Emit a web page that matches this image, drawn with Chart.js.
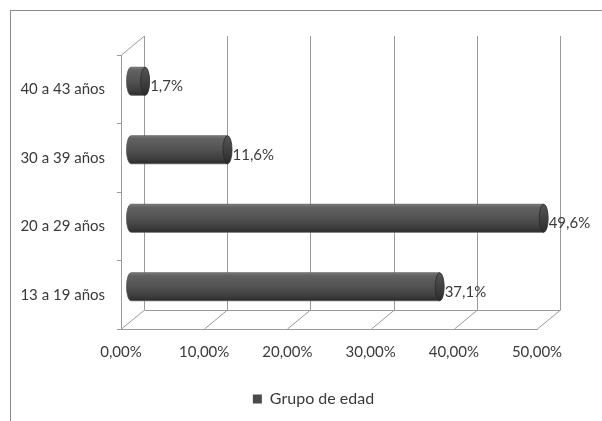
<!DOCTYPE html>
<html>
<head>
<meta charset="utf-8">
<script src="https://cdn.jsdelivr.net/npm/chart.js@4.4.0/dist/chart.umd.min.js"></script>
<style>
  html, body { margin: 0; padding: 0; background: #fff; }
  #wrap { position: relative; width: 602px; height: 421px; overflow: hidden; }
  #frame { position: absolute; left: 10px; top: 10px; width: 700px; height: 500px; border: 1px solid #8a8a8a; }
  canvas { position: absolute; left: 0; top: 0; }
</style>
</head>
<body>
<div id="wrap">
  <div id="frame"></div>
  <canvas id="chart" width="602" height="421"></canvas>
</div>
<script>
// data
const categories = ['13 a 19 años', '20 a 29 años', '30 a 39 años', '40 a 43 años'];
const grupoEdad = [37.1, 49.6, 11.6, 1.7];
const seriesName = 'Grupo de edad';
const xMin = 0, xMax = 50, xStep = 10;

const FONT = 'Lato';
const TEXT = '#3a3a3a';
const LINE = '#9a9a9a';
// 3d depth of the walls, and where the bars sit in that depth
const DEPTH = { dx: 23, dy: -19 };
const BAR_SHIFT = { dx: 10, dy: -8 };

function pct(v, d) {
  return v.toFixed(d).replace('.', ',') + '%';
}

function drawCylinder(ctx, x0, x1, yc, h) {
  const r = h / 2, rx = 4.5;
  const g = ctx.createLinearGradient(0, yc - r, 0, yc + r);
  g.addColorStop(0, '#7e7e7e');
  g.addColorStop(0.1, '#626262');
  g.addColorStop(0.5, '#525252');
  g.addColorStop(0.85, '#3c3c3c');
  g.addColorStop(1, '#2a2a2a');
  ctx.beginPath();
  ctx.moveTo(x1, yc - r);
  ctx.lineTo(x0, yc - r);
  ctx.ellipse(x0, yc, rx, r, 0, -Math.PI / 2, Math.PI / 2, true);
  ctx.lineTo(x1, yc + r);
  ctx.closePath();
  ctx.fillStyle = g;
  ctx.fill();
  ctx.strokeStyle = '#555';
  ctx.lineWidth = 0.8;
  ctx.stroke();

  // end cap
  const gc = ctx.createLinearGradient(0, yc - r, 0, yc + r);
  gc.addColorStop(0, '#555');
  gc.addColorStop(1, '#2c2c2c');
  ctx.beginPath();
  ctx.ellipse(x1, yc, rx, r, 0, 0, Math.PI * 2);
  ctx.fillStyle = gc;
  ctx.fill();
  ctx.strokeStyle = '#2a2a2a';
  ctx.stroke();
}

const wallsPlugin = {
  id: 'walls',
  afterLayout(chart) {
    // centre the legend under the whole frame, not just the plot box
    const lg = chart.legend;
    if (lg) { lg.left += 45; lg.right += 45; }
  },
  beforeDatasetsDraw(chart) {
    const { ctx, chartArea: a, scales: { x } } = chart;
    ctx.save();
    ctx.strokeStyle = LINE;
    ctx.lineWidth = 1;
    ctx.beginPath();
    for (let v = xMin; v <= xMax; v += xStep) {
      const px = Math.round(x.getPixelForValue(v)) + 0.5;
      // back wall gridline
      ctx.moveTo(px + DEPTH.dx, a.top + DEPTH.dy);
      ctx.lineTo(px + DEPTH.dx, a.bottom + DEPTH.dy);
      // floor diagonal
      ctx.moveTo(px, a.bottom);
      ctx.lineTo(px + DEPTH.dx, a.bottom + DEPTH.dy);
    }
    // back edge of floor
    const l = Math.round(x.getPixelForValue(xMin)) + 0.5;
    const r = Math.round(x.getPixelForValue(xMax)) + 0.5;
    ctx.moveTo(l + DEPTH.dx, Math.round(a.bottom + DEPTH.dy) + 0.5);
    ctx.lineTo(r + DEPTH.dx, Math.round(a.bottom + DEPTH.dy) + 0.5);
    // top of side wall
    ctx.moveTo(l, a.top);
    ctx.lineTo(l + DEPTH.dx, a.top + DEPTH.dy);
    ctx.stroke();
    ctx.restore();
  },
  beforeDatasetDraw(chart, args) {
    const { ctx } = chart;
    const meta = chart.getDatasetMeta(args.index);
    ctx.save();
    meta.data.forEach((bar) => {
      drawCylinder(ctx, bar.base + BAR_SHIFT.dx, bar.x + BAR_SHIFT.dx, bar.y + BAR_SHIFT.dy, bar.height);
    });
    ctx.restore();
    return false;
  },
  afterDatasetsDraw(chart) {
    const { ctx } = chart;
    const meta = chart.getDatasetMeta(0);
    ctx.save();
    ctx.font = '15px ' + FONT;
    ctx.fillStyle = TEXT;
    ctx.textAlign = 'left';
    ctx.textBaseline = 'middle';
    meta.data.forEach((bar, i) => {
      ctx.fillText(pct(grupoEdad[i], 1), bar.x + BAR_SHIFT.dx + 5, bar.y + BAR_SHIFT.dy + 5);
    });
    ctx.restore();
  }
};

new Chart(document.getElementById('chart'), {
  type: 'bar',
  data: {
    labels: categories,
    datasets: [{
      label: seriesName,
      data: grupoEdad,
      backgroundColor: '#4a4a4a',
      borderWidth: 0,
      barThickness: 28
    }]
  },
  options: {
    indexAxis: 'y',
    responsive: false,
    animation: false,
    devicePixelRatio: 1,
    layout: { padding: { left: 0, right: 65, top: 55, bottom: 4 } },
    scales: {
      x: {
        min: xMin,
        max: xMax,
        grid: { display: false },
        border: { display: true, color: LINE, width: 1 },
        ticks: {
          stepSize: xStep,
          padding: 6,
          color: TEXT,
          font: { family: FONT, size: 15 },
          callback: (v) => pct(v, 2)
        },
        afterFit: (s) => { s.height = 52; }
      },
      y: {
        reverse: true,
        grid: { display: true, drawOnChartArea: false, drawTicks: true, tickLength: 4, color: LINE },
        border: { display: true, color: LINE, width: 1 },
        ticks: {
          padding: 12,
          color: TEXT,
          font: { family: FONT, size: 15 }
        },
        afterFit: (s) => { s.width = 121; }
      }
    },
    plugins: {
      legend: {
        position: 'bottom',
        labels: {
          boxWidth: 9,
          boxHeight: 9,
          color: TEXT,
          font: { family: FONT, size: 16 }
        }
      },
      tooltip: { enabled: false }
    }
  },
  plugins: [wallsPlugin]
});
</script>
</body>
</html>
